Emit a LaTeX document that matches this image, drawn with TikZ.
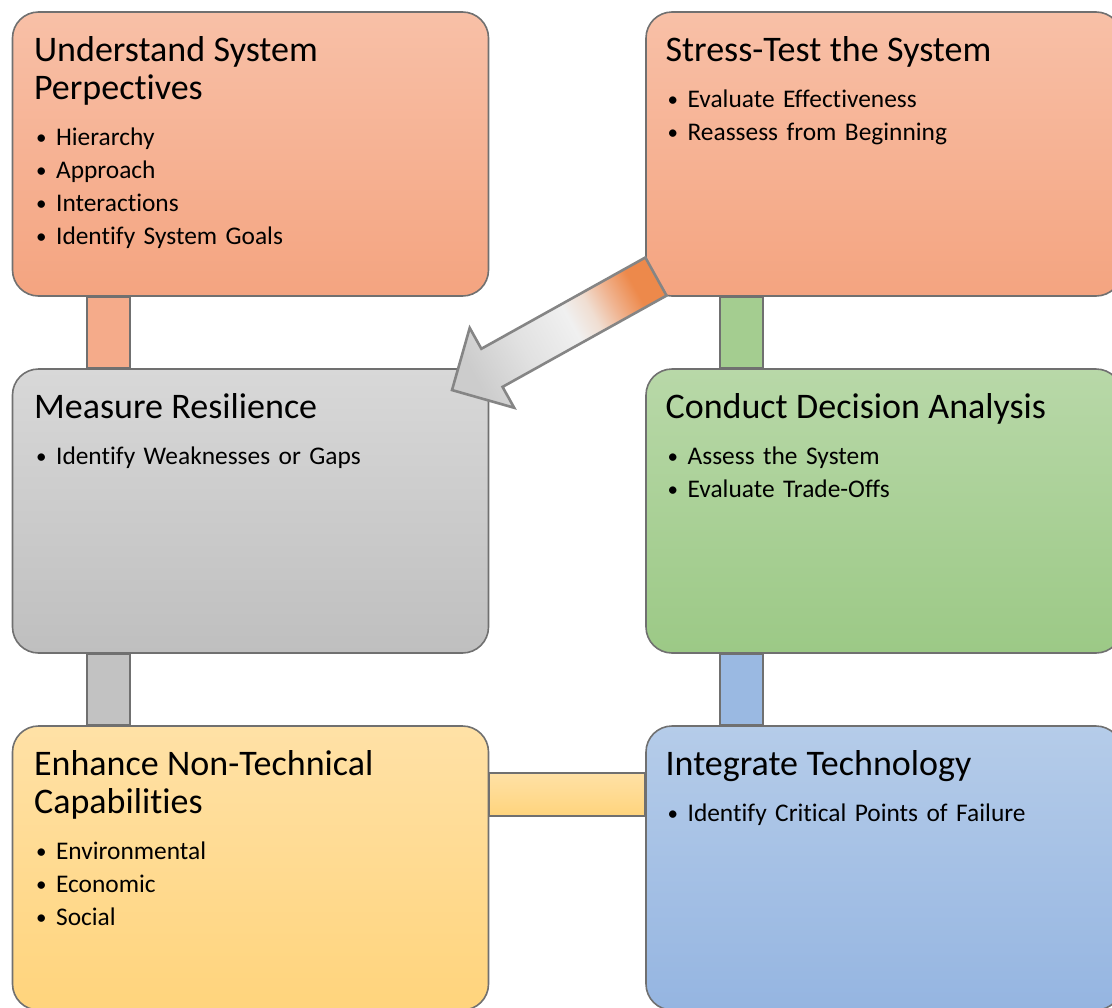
\documentclass[tikz,border=0pt]{standalone}
\usepackage{fontspec}
\setmainfont{Carlito}[Ligatures={NoCommon}]
\usetikzlibrary{shapes.arrows}

\definecolor{edgegrey}{RGB}{112,112,112}
\definecolor{orangetop}{RGB}{248,192,167}
\definecolor{orangebot}{RGB}{244,164,128}
\definecolor{greytop}{RGB}{216,216,216}
\definecolor{greybot}{RGB}{191,191,191}
\definecolor{greentop}{RGB}{184,216,168}
\definecolor{greenbot}{RGB}{156,201,134}
\definecolor{yellowtop}{RGB}{255,225,166}
\definecolor{yellowbot}{RGB}{255,212,124}
\definecolor{bluetop}{RGB}{181,204,233}
\definecolor{bluebot}{RGB}{149,181,225}
\definecolor{arrorange}{RGB}{237,137,75}
\definecolor{arrtan}{RGB}{240,180,145}
\definecolor{arrpale}{RGB}{240,222,210}
\definecolor{arrlight}{RGB}{240,240,240}
\definecolor{arrgrey}{RGB}{204,204,204}

% tail (left) orange, fading through white to a grey tip
\pgfdeclarehorizontalshading{stressfade}{100bp}{color(0bp)=(arrorange); color(25bp)=(arrorange); color(27bp)=(arrorange); color(34bp)=(arrtan); color(40bp)=(arrpale); color(46bp)=(arrlight); color(60bp)=(arrlight!60!arrgrey); color(75bp)=(arrgrey); color(100bp)=(arrgrey)}

\newcommand{\stagehead}[1]{{\fontsize{18}{19}\selectfont\rule{0pt}{14pt}#1\par}\vspace{6.5pt}}
\newcommand{\stagepoint}[1]{\makebox[11pt][l]{\hspace{1pt}\raisebox{0.6pt}{\fontsize{10.5}{10}\selectfont\textbullet}}#1\par}

\tikzset{
  stage/.style={draw=edgegrey,line width=0.8pt,rounded corners=13pt,minimum width=238pt,minimum height=142pt,inner sep=0pt},
  stagetext/.style={anchor=north west,inner sep=0pt,text width=220pt,align=left,font=\fontsize{12.7}{16.5}\selectfont},
  link/.style={draw=edgegrey,line width=0.8pt}
}

\begin{document}
\begin{tikzpicture}[x=0.5pt,y=-0.5pt]
\useasboundingbox (0,0) rectangle (1112,1007);
\clip (0,0) rectangle (1112,1007);

% the six stages, two columns
\node[stage,top color=orangetop,bottom color=orangebot] (usp) at (250.5,154) {};
\node[stage,top color=orangetop,bottom color=orangebot] (sts) at (884,154) {};
\node[stage,top color=greytop,bottom color=greybot] (mr) at (250.5,511) {};
\node[stage,top color=greentop,bottom color=greenbot] (cda) at (884,511) {};
\node[stage,top color=yellowtop,bottom color=yellowbot] (entc) at (250.5,868) {};
\node[stage,top color=bluetop,bottom color=bluebot] (it) at (884,868) {};

% bars joining the stages
\path[link,fill=orangebot!92!white] ([xshift=37.5pt]usp.south west) rectangle ([xshift=59pt]mr.north west);
\path[link,fill=greenbot!92!white] ([xshift=37.5pt]sts.south west) rectangle ([xshift=59pt]cda.north west);
\path[link,fill=greybot!95!white] ([xshift=37.5pt]mr.south west) rectangle ([xshift=59pt]entc.north west);
\path[link,fill=bluebot!95!white] ([xshift=37.5pt]cda.south west) rectangle ([xshift=59pt]it.north west);
\path[link,top color=yellowtop,bottom color=yellowbot] ([yshift=-24pt]entc.north east) rectangle ([yshift=-45.5pt]it.north west);

\node[stagetext] (usp-txt) at ([xshift=11pt,yshift=-11pt]usp.north west) {\stagehead{Understand System\\Perpectives}\stagepoint{Hierarchy}\stagepoint{Approach}\stagepoint{Interactions}\stagepoint{Identify System Goals}};
\node[stagetext] (sts-txt) at ([xshift=10pt,yshift=-11pt]sts.north west) {\stagehead{Stress-Test the System}\stagepoint{Evaluate Effectiveness}\stagepoint{Reassess from Beginning}};
\node[stagetext] (mr-txt) at ([xshift=11pt,yshift=-11pt]mr.north west) {\stagehead{Measure Resilience}\stagepoint{Identify Weaknesses or Gaps}};
\node[stagetext] (cda-txt) at ([xshift=10pt,yshift=-11pt]cda.north west) {\stagehead{Conduct Decision Analysis}\stagepoint{Assess the System}\stagepoint{Evaluate Trade-Offs}};
\node[stagetext] (entc-txt) at ([xshift=11pt,yshift=-11pt]entc.north west) {\stagehead{Enhance Non-Technical\\Capabilities}\stagepoint{Environmental}\stagepoint{Economic}\stagepoint{Social}};
\node[stagetext] (it-txt) at ([xshift=10pt,yshift=-11pt]it.north west) {\stagehead{Integrate Technology}\stagepoint{Identify Critical Points of Failure}};

% loop back from stress-testing to measuring
\node[single arrow,draw=edgegrey!85!white,line width=1.3pt,shading=stressfade,shading angle=209.1,rotate=209.1,minimum height=116.7pt,single arrow head extend=11.95pt,single arrow head indent=0pt,inner xsep=0pt,inner ysep=10.25pt] (loopback) at (563.5,328) {};
\end{tikzpicture}
\end{document}
